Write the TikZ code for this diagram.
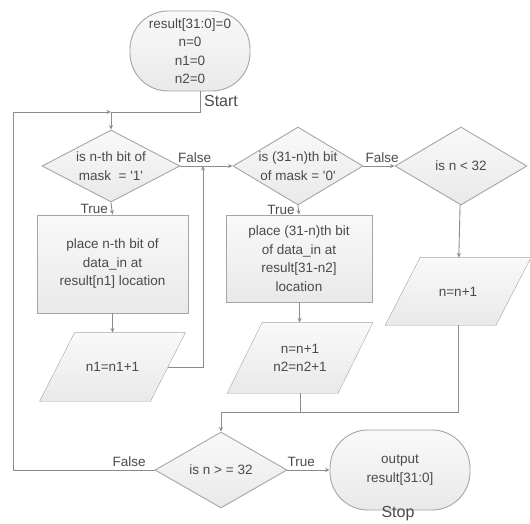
\documentclass[tikz,border=0pt]{standalone}
\usepackage{fontspec}
\setmainfont{Liberation Sans}
\usetikzlibrary{shapes.geometric,arrows.meta,backgrounds}
\definecolor{linegray}{HTML}{8C8C8C}
\definecolor{edgegray}{HTML}{A5A5A5}
\definecolor{txtgray}{HTML}{4A4A4A}
\definecolor{topfill}{HTML}{F9F9F9}
\definecolor{botfill}{HTML}{E9E9E9}
\begin{document}
\begin{tikzpicture}[x=1pt, y=-1pt, >={Stealth[length=4.5pt,width=4pt]},
  font=\fontsize{13.5}{18.5}\selectfont, line width=0.9pt, color=linegray,
  every node/.style={text=txtgray},
  shade/.style={draw=edgegray, top color=topfill, bottom color=botfill},
  term/.style={rectangle, rounded corners=38pt, shade, align=center},
  proc/.style={rectangle, shade, align=center},
  dec/.style={diamond, shade, inner sep=0pt},
  io/.style={rectangle, minimum width=110pt, align=center, inner sep=0pt},
  big/.style={font=\fontsize{16}{18}\selectfont}]
\useasboundingbox (0,0) rectangle (530,524);

\node[term, minimum width=120pt, minimum height=80pt] (start) at (190,51) {result[31:0]=0\\n=0\\n1=0\\n2=0};
\node[big] (startlbl) at (221,101) {Start};

\node[dec, minimum width=138pt, minimum height=72pt,
  label={[align=center]center:{is n-th bit of\\mask \ = \textquotesingle1\textquotesingle}}] (d1) at (111,166) {};
\node[dec, minimum width=130pt, minimum height=78pt,
  label={[align=center]center:{is (31-n)th bit\\of mask = \textquotesingle0\textquotesingle}}] (d2) at (298,166) {};
\node[dec, minimum width=132pt, minimum height=78pt, label={center:{is n < 32}}] (d3) at (461,166) {};

\node[proc, minimum width=151pt, minimum height=98pt] (place1) at (112.5,264) {place n-th bit of\\data\_in at\\result[n1] location};
\node[proc, minimum width=146pt, minimum height=87pt] (place2) at (299,258.5) {place (31-n)th bit\\of data\_in at\\result[31-n2]\\location};

\node[io, minimum height=68pt] (inc1) at (112.5,367) {n1=n1+1};
\node[io, minimum height=70pt] (inc2) at (300,358) {n=n+1\\n2=n2+1};
\node[io, minimum height=67pt] (inc3) at (458,291.5) {n=n+1};
% parallelogram outlines behind the texts
\begin{scope}[on background layer]
\foreach \p in {inc1,inc2,inc3}
  \draw[shade] ([xshift=17.5pt]\p.north west) -- ([xshift=17.5pt]\p.north east)
    -- ([xshift=-17.5pt]\p.south east) -- ([xshift=-17.5pt]\p.south west) -- cycle;
\end{scope}

\node[dec, minimum width=132pt, minimum height=76pt, label={center:{is n > = 32}}] (d4) at (221,470) {};
\node[term, minimum width=140pt, minimum height=80pt] (stop) at (400,470) {output\\result[31:0]};
\node[big] (stoplbl) at (398,514) {Stop};

\coordinate (top) at (111,112);
\coordinate (left) at (13,112);
\coordinate (back) at (203,166);
\coordinate (join) at (221,412);

\draw ([xshift=10pt]start.south) |- (top);
\draw[->] (top) -- (d1.north);
\draw[->] (d1.east) -- node[above, pos=.27] {False} (d2.west);
\draw[->] (d1.south) -- node[left] {True} (place1.north);
\draw[->] (place1) -- (inc1);
\draw[->] (inc1.east) -| (back);
\draw[->] (d2.east) -- node[above, pos=.6] {False} (d3.west);
\draw[->] (d2.south) -- node[left] {True} (place2.north);
\draw[->] (place2) -- (inc2);
\draw[->] (d3) -- (inc3);
\draw[->] (inc3.south) |- (join) -- (d4.north);
\draw (inc2.south) -- (inc2.south |- join);
\draw[->] (d4.east) -- node[above, pos=.33] {True} (stop.west);
\draw[->] (d4.west) -- node[above, pos=.18] {False} (d4.west -| left) -- (left) -- (top);
\end{tikzpicture}
\end{document}
